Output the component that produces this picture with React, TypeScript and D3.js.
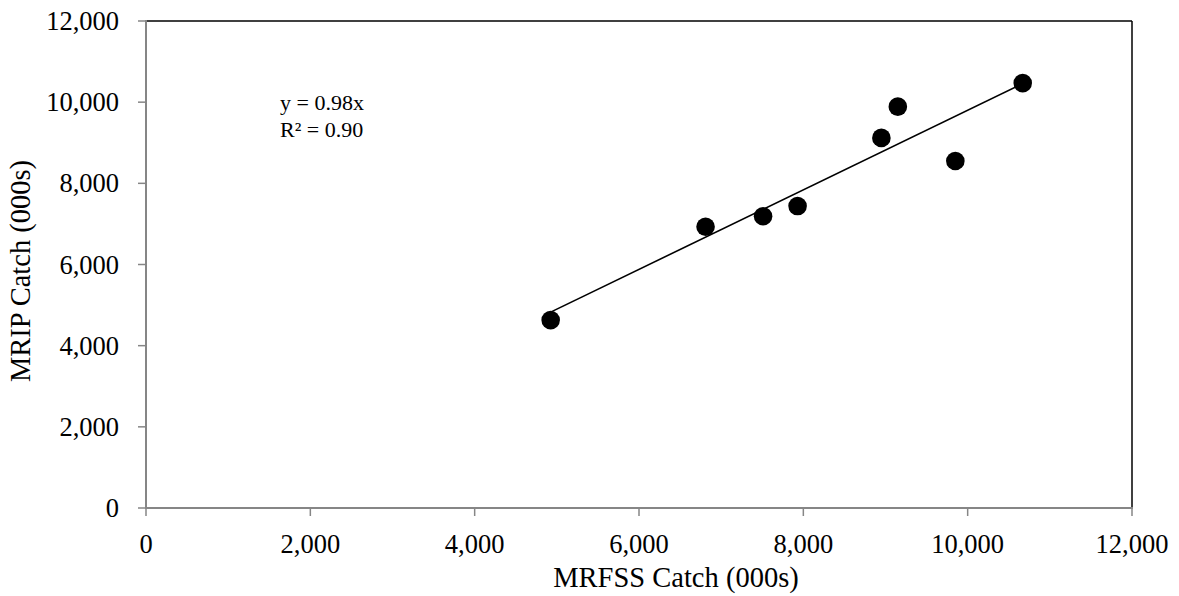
import React from "react";
import * as d3 from "d3";

const mrfss = [4925, 6810, 7510, 7930, 8950, 9150, 9850, 10670];
const mrip = [4630, 6930, 7190, 7440, 9120, 9890, 8550, 10470];
const slope = 0.98;
const xTicks = [0, 2000, 4000, 6000, 8000, 10000, 12000];
const yTicks = [0, 2000, 4000, 6000, 8000, 10000, 12000];
const eqLines = ["y = 0.98x", "R² = 0.90"];

export default function App() {
  const W = 1179, H = 596;
  const left = 146, right = 1132, top = 21, bottom = 508;
  const x = d3.scaleLinear().domain([0, 12000]).range([left, right]);
  const y = d3.scaleLinear().domain([0, 12000]).range([bottom, top]);
  const fmt = d3.format(",");
  const font = "'Liberation Serif', 'Times New Roman', serif";
  const xMin = d3.min(mrfss)!, xMax = d3.max(mrfss)!;
  const line = d3.line<number>().x((d) => x(d)).y((d) => y(d * slope));
  return (
    <svg width={W} height={H} style={{ position: "absolute", left: 0, top: 0, background: "#fff" }}>
      <line x1={left} y1={top} x2={right} y2={top} stroke="#000" strokeWidth={1.5} />
      <line x1={right} y1={top} x2={right} y2={bottom} stroke="#000" strokeWidth={1.5} />
      <line x1={left} y1={top - 1} x2={left} y2={bottom + 1} stroke="#868686" strokeWidth={2} />
      <line x1={left - 1} y1={bottom} x2={right + 1} y2={bottom} stroke="#868686" strokeWidth={2} />
      {yTicks.map((t) => (
        <g key={"y" + t}>
          <line x1={left - 8} x2={left} y1={y(t)} y2={y(t)} stroke="#868686" strokeWidth={1.5} />
          <text x={left - 27} y={y(t)} dy="0.34em" textAnchor="end" fontFamily={font} fontSize={26.5} fill="#000">
            {fmt(t)}
          </text>
        </g>
      ))}
      {xTicks.map((t) => (
        <g key={"x" + t}>
          <line x1={x(t)} x2={x(t)} y1={bottom} y2={bottom + 8} stroke="#868686" strokeWidth={1.5} />
          <text x={x(t)} y={553} textAnchor="middle" fontFamily={font} fontSize={26.5} fill="#000">
            {fmt(t)}
          </text>
        </g>
      ))}
      <path d={line([xMin, xMax]) || ""} stroke="#000" strokeWidth={1.6} fill="none" />
      {mrfss.map((v, i) => (
        <circle key={i} cx={x(v)} cy={y(mrip[i])} r={9.3} fill="#000" />
      ))}
      {eqLines.map((s, i) => (
        <text key={s} x={280} y={110 + i * 27} fontFamily={font} fontSize={22} fill="#000">
          {s}
        </text>
      ))}
      <text x={676} y={587} textAnchor="middle" fontFamily={font} fontSize={28.5} fill="#000">
        MRFSS Catch (000s)
      </text>
      <text
        transform={`translate(30, 271) rotate(-90)`}
        textAnchor="middle"
        fontFamily={font}
        fontSize={28.5}
        fill="#000"
      >
        MRIP Catch (000s)
      </text>
    </svg>
  );
}
